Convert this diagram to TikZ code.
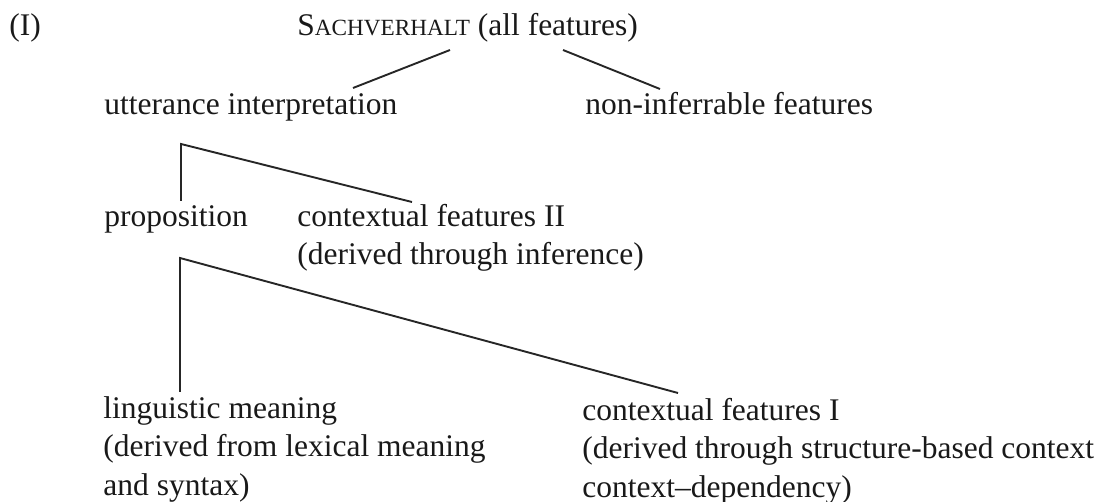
\documentclass[tikz,border=0pt]{standalone}
\usepackage{fontspec}
\setmainfont{Liberation Serif}
\usepackage{tikz}
\tikzset{
  treelabel/.style={
    anchor=base west, inner sep=0pt, align=left, text=black!90,
    font=\fontsize{15.75}{19.25}\selectfont
  },
  branch/.style={line width=0.95pt, color=black!85},
}
\newcommand{\fakesc}[1]{{\fontsize{11.6}{14}\selectfont #1}}

\begin{document}
\begin{tikzpicture}[x=0.5pt, y=-0.5pt]
  \useasboundingbox (0,0) rectangle (1104,502);

  % --- Nummer und Wurzel ---
  \node (num) [treelabel] at (9,36) {(I)};
  \node (root) [treelabel] at (297,36) {S\fakesc{ACHVERHALT} (all features)};

  % --- Erste Ebene ---
  \node (utter) [treelabel] at (104,115) {utterance interpretation};
  \node (noninf) [treelabel] at (585,115) {non-inferrable features};

  % --- Zweite Ebene (Basis = letzte Zeile) ---
  \node (prop) [treelabel] at (104,227) {proposition};
  \node (ctxtwo) [treelabel] at (297,265) {contextual features II\\(derived through inference)};

  % --- Dritte Ebene ---
  \node (lingmean) [treelabel] at (103,495) {linguistic meaning\\(derived from lexical meaning\\and syntax)};
  \node (ctxone) [treelabel] at (582,497) {contextual features I\\(derived through structure-based context\\context--dependency)};

  % --- Aeste ---
  \draw[branch] ([shift={(153,14)}]root.base west) -- ([shift={(249,-27)}]utter.base west);
  \draw[branch] ([shift={(266,14)}]root.base west) -- ([shift={(75,-26)}]noninf.base west);

  \coordinate (forkone) at ([shift={(77,29)}]utter.base west);
  \draw[branch] ([shift={(77,-26)}]prop.base west) -- (forkone) -- ([shift={(115,-63)}]ctxtwo.base west);

  \coordinate (forktwo) at ([shift={(76,31)}]prop.base west);
  \draw[branch] ([shift={(77,-103)}]lingmean.base west) -- (forktwo) -- ([shift={(96,-104)}]ctxone.base west);

\end{tikzpicture}
\end{document}
